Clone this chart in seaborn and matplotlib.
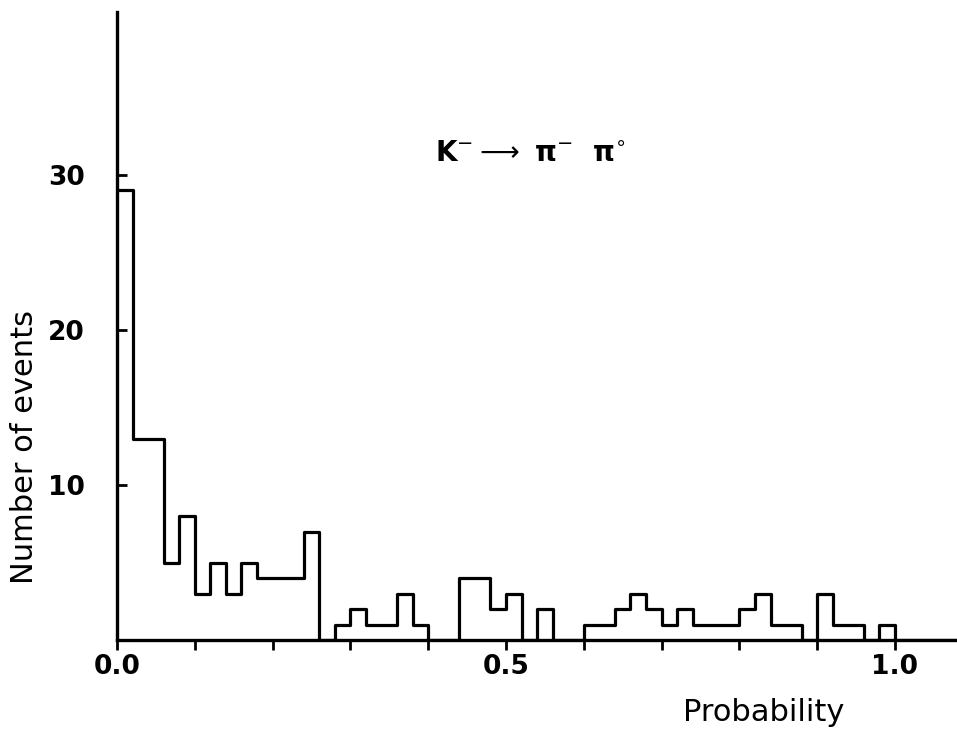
import numpy as np
import pandas as pd
import matplotlib
matplotlib.use("Agg")
import matplotlib.pyplot as plt
from matplotlib.ticker import MultipleLocator
import seaborn as sns

# counts per probability bin (bin width 0.02, from 0.00 up to 1.08)
bin_width = 0.02
counts = [29, 13, 13, 5, 8, 3, 5, 3, 5, 4,
          4, 4, 7, 0, 1, 2, 1, 1, 3, 1,
          0, 0, 4, 4, 2, 3, 0, 2, 0, 0,
          1, 1, 2, 3, 2, 1, 2, 1, 1, 1,
          2, 3, 1, 1, 0, 3, 1, 1, 0, 1,
          0, 0, 0, 0]
x_ticks = [0.0, 0.5, 1.0]
x_ticklabels = ["0.0", "0.5", "1.0"]
y_ticks = [10, 20, 30]
y_ticklabels = ["10", "20", "30"]

centers = (np.arange(len(counts)) + 0.5) * bin_width
df = pd.DataFrame({"prob": centers, "n": counts})

sns.set_style("ticks")
plt.rcParams['font.family'] = ['DejaVu Sans']
plt.rcParams['text.color'] = 'black'
plt.rcParams['axes.labelcolor'] = 'black'

fig = plt.figure(figsize=(9.57, 7.36), dpi=100)
ax = fig.add_axes([117 / 957, 96 / 736, 840 / 957, 628 / 736])

sns.histplot(data=df, x="prob", weights="n", binwidth=bin_width,
             binrange=(0, len(counts) * bin_width), element="step",
             fill=False, color="black", linewidth=2.3, ax=ax)

ax.set_xlim(0, 840 / 778)
ax.set_ylim(0, 628 / 15.5)

sns.despine(ax=ax)
for s in ["left", "bottom"]:
    ax.spines[s].set_linewidth(2.4)
    ax.spines[s].set_color("black")

ax.set_xticks(x_ticks)
ax.set_xticklabels(x_ticklabels, fontsize=19, fontweight="bold")
ax.xaxis.set_minor_locator(MultipleLocator(0.1))
ax.tick_params(axis="x", which="both", direction="out", length=7, width=2,
               pad=3, colors="black")

ax.set_yticks(y_ticks)
ax.set_yticklabels(y_ticklabels, fontsize=19, fontweight="bold")
ax.tick_params(axis="y", direction="in", length=7, width=2, pad=23,
               colors="black")

ax.set_xlabel("Probability", fontsize=22)
ax.xaxis.set_label_coords(0.770, -0.115)
ax.xaxis.label.set_va("center")
ax.set_ylabel("Number of events", fontsize=22)
ax.yaxis.set_label_coords(-0.110, 0.307)
ax.yaxis.label.set_va("center")

ax.text(0.532, 31.4, r"K$^{-}$$\longrightarrow$ π$^{-}$  π$^{\circ}$",
        fontsize=20, fontweight="bold", ha="center", va="center")

fig.savefig("out.png", dpi=100)
